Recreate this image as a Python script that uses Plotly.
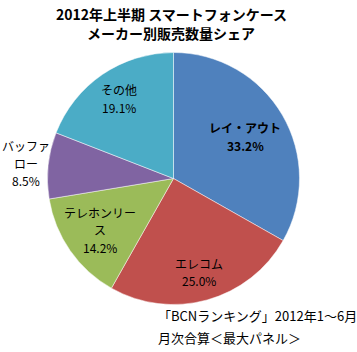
import math
import plotly.graph_objects as go

# ---- data ----
makers = ["レイ・アウト", "エレコム", "テレホンリース", "バッファロー", "その他"]
label_lines = [["レイ・アウト"], ["エレコム"], ["テレホンリー", "ス"], ["バッファ", "ロー"], ["その他"]]
shares = [33.2, 25.0, 14.2, 8.5, 19.1]
colors = ["#4F81BD", "#C0504D", "#9BBB59", "#8064A2", "#4BACC6"]
title_lines = ["2012年上半期 スマートフォンケース", "メーカー別販売数量シェア"]
note_lines = ["「BCNランキング」2012年1～6月", "月次合算＜最大パネル＞"]

# ---- style / layout ----
W, H = 357, 352
cx, cy, R = 173.5, 178.5, 126.0          # pie centre and radius in px
label_r = [0.66, 0.77, 0.71, 1.18, 0.77]  # radial label placement (fraction of R)
bold = [True, False, False, False, False]
FONT = "Noto Sans CJK JP"
line_h = 17.5

fig = go.Figure(go.Pie(
    labels=makers, values=shares, sort=False, direction="clockwise", rotation=0,
    marker=dict(colors=colors, line=dict(color="rgba(255,255,255,0.6)", width=0.8)),
    textinfo="none", hoverinfo="label+percent", showlegend=False,
    domain=dict(x=[(cx - R) / W, (cx + R) / W], y=[1 - (cy + R) / H, 1 - (cy - R) / H]),
))

annotations = []
total = sum(shares)
acc = 0.0
for i, v in enumerate(shares):
    mid = (acc + v / 2) / total * 2 * math.pi
    acc += v
    px = cx + label_r[i] * R * math.sin(mid)
    py = cy - label_r[i] * R * math.cos(mid)
    lines = label_lines[i] + [f"{v:.1f}%"]
    n = len(lines)
    for j, t in enumerate(lines):
        txt = f"<b>{t}</b>" if bold[i] else t
        annotations.append(dict(
            x=px / W, y=1 - py / H, xref="paper", yref="paper",
            text=txt, showarrow=False, xanchor="center", yanchor="middle",
            yshift=-(j - (n - 1) / 2) * line_h,
            font=dict(family=FONT, size=12, color="#000000"),
        ))

for j, t in enumerate(title_lines):
    annotations.append(dict(
        x=171 / W, y=1 - (14 + j * 19) / H, xref="paper", yref="paper",
        text=f"<b>{t}</b>", showarrow=False, xanchor="center", yanchor="middle",
        font=dict(family=FONT, size=14, color="#000000"),
    ))

for j, t in enumerate(note_lines):
    annotations.append(dict(
        x=156 / W, y=1 - (315 + j * 22) / H, xref="paper", yref="paper",
        text=t, showarrow=False, xanchor="left", yanchor="middle",
        font=dict(family=FONT, size=13, color="#000000"),
    ))

fig.update_layout(
    width=W, height=H, margin=dict(l=0, r=0, t=0, b=0),
    paper_bgcolor="white", plot_bgcolor="white",
    annotations=annotations,
)

fig.write_html("out.html")
